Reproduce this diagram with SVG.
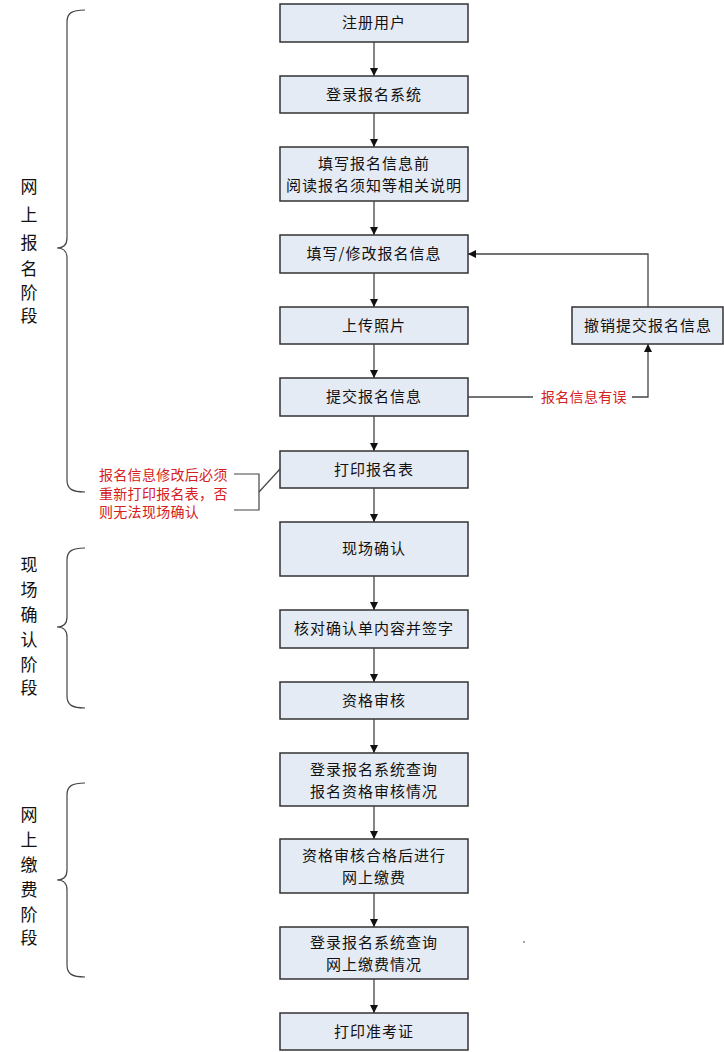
<svg xmlns="http://www.w3.org/2000/svg" width="724" height="1052" viewBox="0 0 724 1052">
<defs>
<marker id="ah" viewBox="0 0 10 10" refX="10" refY="5" markerWidth="8" markerHeight="8" markerUnits="userSpaceOnUse" orient="auto">
<path d="M0,0 L10,5 L0,10 z" fill="#111"/>
</marker>
</defs>
<style>
.box{fill:#e5ebf5;stroke:#333;stroke-width:1.5}
.t{font-family:"Noto Sans CJK SC","Liberation Sans",sans-serif;font-size:15px;letter-spacing:1px;fill:#111;text-anchor:middle}
.r{font-family:"Noto Sans CJK SC","Liberation Sans",sans-serif;font-size:14px;letter-spacing:0.3px;fill:#d42020}
.s{font-family:"Noto Sans CJK SC","Liberation Sans",sans-serif;font-size:17px;fill:#111;text-anchor:middle}
.c{fill:none;stroke:#444;stroke-width:1.3}
.br{fill:none;stroke:#444;stroke-width:1.2}
</style>
<rect width="724" height="1052" fill="#fff"/>
<g id="n1"><rect class="box" x="280" y="4" width="188" height="38"/><text class="t" x="374" y="28">注册用户</text></g>
<g id="n2"><rect class="box" x="280" y="76" width="188" height="37"/><text class="t" x="374" y="100">登录报名系统</text></g>
<g id="n3"><rect class="box" x="280" y="147" width="188" height="54"/><text class="t" x="374" y="169">填写报名信息前</text><text class="t" x="374" y="191">阅读报名须知等相关说明</text></g>
<g id="n4"><rect class="box" x="280" y="235" width="188" height="38"/><text class="t" x="374" y="259">填写/修改报名信息</text></g>
<g id="n5"><rect class="box" x="280" y="307" width="188" height="37"/><text class="t" x="374" y="331">上传照片</text></g>
<g id="n6"><rect class="box" x="280" y="378" width="188" height="38"/><text class="t" x="374" y="402">提交报名信息</text></g>
<g id="n7"><rect class="box" x="572" y="307" width="151" height="37"/><text class="t" x="648" y="331">撤销提交报名信息</text></g>
<g id="n8"><rect class="box" x="280" y="451" width="188" height="37"/><text class="t" x="374" y="475">打印报名表</text></g>
<g id="n9"><rect class="box" x="280" y="522" width="188" height="54"/><text class="t" x="374" y="554">现场确认</text></g>
<g id="n10"><rect class="box" x="280" y="610" width="188" height="38"/><text class="t" x="374" y="634">核对确认单内容并签字</text></g>
<g id="n11"><rect class="box" x="280" y="682" width="188" height="37"/><text class="t" x="374" y="706">资格审核</text></g>
<g id="n12"><rect class="box" x="280" y="753" width="188" height="53"/><text class="t" x="374" y="775">登录报名系统查询</text><text class="t" x="374" y="797">报名资格审核情况</text></g>
<g id="n13"><rect class="box" x="280" y="839" width="188" height="54"/><text class="t" x="374" y="861">资格审核合格后进行</text><text class="t" x="374" y="883">网上缴费</text></g>
<g id="n14"><rect class="box" x="280" y="927" width="188" height="52"/><text class="t" x="374" y="948">登录报名系统查询</text><text class="t" x="374" y="970">网上缴费情况</text></g>
<g id="n15"><rect class="box" x="280" y="1013" width="188" height="37"/><text class="t" x="374" y="1037">打印准考证</text></g>
<g id="connectors">
<line class="c" x1="374" y1="42" x2="374" y2="76" marker-end="url(#ah)"/>
<line class="c" x1="374" y1="113" x2="374" y2="147" marker-end="url(#ah)"/>
<line class="c" x1="374" y1="201" x2="374" y2="235" marker-end="url(#ah)"/>
<line class="c" x1="374" y1="273" x2="374" y2="307" marker-end="url(#ah)"/>
<line class="c" x1="374" y1="344" x2="374" y2="378" marker-end="url(#ah)"/>
<line class="c" x1="374" y1="416" x2="374" y2="451" marker-end="url(#ah)"/>
<line class="c" x1="374" y1="488" x2="374" y2="522" marker-end="url(#ah)"/>
<line class="c" x1="374" y1="576" x2="374" y2="610" marker-end="url(#ah)"/>
<line class="c" x1="374" y1="648" x2="374" y2="682" marker-end="url(#ah)"/>
<line class="c" x1="374" y1="719" x2="374" y2="753" marker-end="url(#ah)"/>
<line class="c" x1="374" y1="806" x2="374" y2="839" marker-end="url(#ah)"/>
<line class="c" x1="374" y1="893" x2="374" y2="927" marker-end="url(#ah)"/>
<line class="c" x1="374" y1="979" x2="374" y2="1013" marker-end="url(#ah)"/>
<polyline class="c" points="648,307 648,254 468,254" marker-end="url(#ah)"/>
<line class="c" x1="468" y1="397" x2="533" y2="397"/>
<polyline class="c" points="632,397 648,397 648,344" marker-end="url(#ah)"/>
<polyline class="br" points="234,474 259,474 259,510 234,510"/>
<line class="br" x1="259" y1="492" x2="280" y2="469"/>
</g>
<text class="r" x="541" y="402">报名信息有误</text>
<text class="r" x="99" y="480">报名信息修改后必须</text>
<text class="r" x="99" y="499">重新打印报名表，否</text>
<text class="r" x="99" y="517">则无法现场确认</text>
<g id="brace1">
<path class="br" d="M85,10 C72,10 67,13 67,22 L67,238 C67,245 63,248 57,248 C63,248 67,251 67,258 L67,480 C67,489 72,492 85,492"/>
<text class="s" x="29" y="193">网</text><text class="s" x="29" y="221">上</text><text class="s" x="29" y="249">报</text><text class="s" x="29" y="275">名</text><text class="s" x="29" y="299">阶</text><text class="s" x="29" y="322">段</text>
</g>
<g id="brace2">
<path class="br" d="M85,548 C72,548 67,551 67,560 L67,617 C67,624 63,627 57,627 C63,627 67,630 67,637 L67,696 C67,705 72,708 85,708"/>
<text class="s" x="29" y="571">现</text><text class="s" x="29" y="596">场</text><text class="s" x="29" y="621">确</text><text class="s" x="29" y="646">认</text><text class="s" x="29" y="671">阶</text><text class="s" x="29" y="694">段</text>
</g>
<g id="brace3">
<path class="br" d="M85,783 C72,783 67,786 67,795 L67,870 C67,877 63,880 57,880 C63,880 67,883 67,890 L67,965 C67,974 72,977 85,977"/>
<text class="s" x="29" y="821">网</text><text class="s" x="29" y="846">上</text><text class="s" x="29" y="871">缴</text><text class="s" x="29" y="896">费</text><text class="s" x="29" y="921">阶</text><text class="s" x="29" y="944">段</text>
</g>
<circle cx="524" cy="942" r="0.8" fill="#333"/>
</svg>
